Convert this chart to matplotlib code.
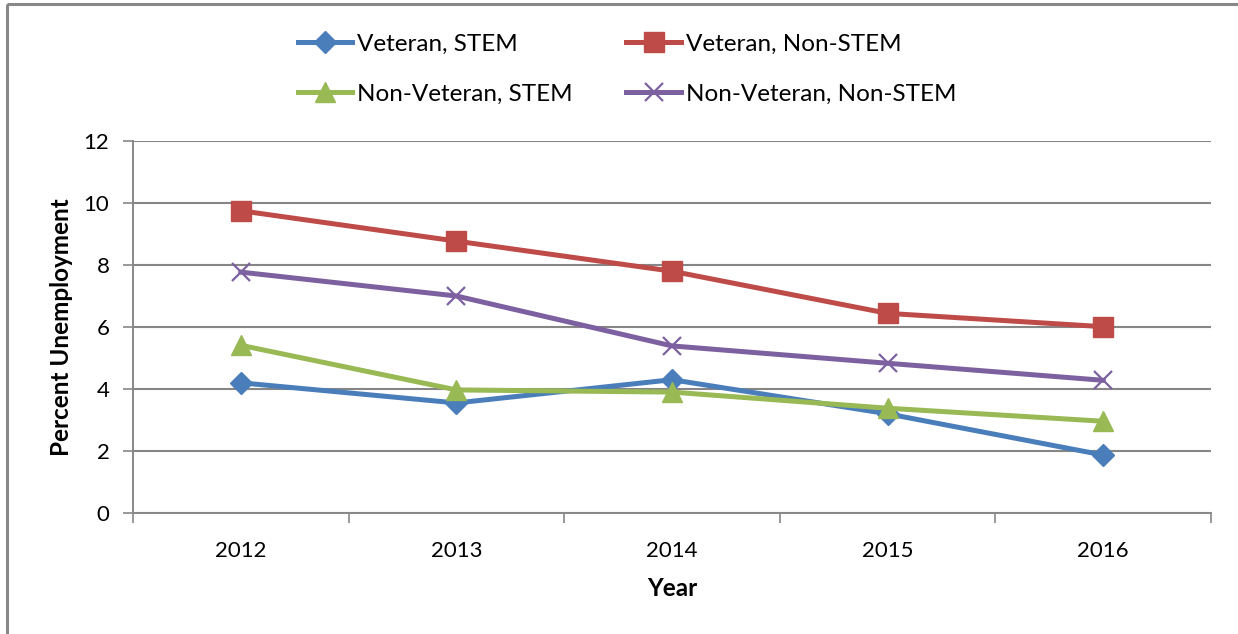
import matplotlib
matplotlib.use('Agg')
import matplotlib.pyplot as plt
import numpy as np
from matplotlib.patches import Rectangle

# data
years = ['2012', '2013', '2014', '2015', '2016']
vet_stem = [4.2, 3.55, 4.3, 3.2, 1.87]
vet_nonstem = [9.75, 8.77, 7.8, 6.44, 6.01]
nonvet_stem = [5.41, 3.97, 3.9, 3.38, 2.96]
nonvet_nonstem = [7.77, 7.0, 5.39, 4.83, 4.28]

plt.rcParams['font.family'] = ['Lato', 'DejaVu Sans']

fig = plt.figure(figsize=(12.38, 6.34), dpi=100)
ax = fig.add_axes([133/1238, 1-513/634, (1211-133)/1238, (513-141)/634])

# outer frame of the chart
fig.patches.append(Rectangle((7/1238, 1-4/634), 1.0, -1.1, transform=fig.transFigure,
                             fill=False, edgecolor='#888888', lw=2.2))

x = np.arange(len(years))
lw = 3.6
l1, = ax.plot(x, vet_stem, color='#4A7EBB', lw=lw, marker='D', ms=11, label='Veteran, STEM')
l2, = ax.plot(x, vet_nonstem, color='#BE4B48', lw=lw, marker='s', ms=14, label='Veteran, Non-STEM')
l3, = ax.plot(x, nonvet_stem, color='#98B954', lw=lw, marker='^', ms=15, label='Non-Veteran, STEM')
l4, = ax.plot(x, nonvet_nonstem, color='#7D60A0', lw=lw, marker='x', ms=13, mew=1.6,
              label='Non-Veteran, Non-STEM')

ax.set_xlim(-0.5, len(years) - 0.5)
ax.set_ylim(0, 12)
ax.set_yticks(np.arange(0, 13, 2))
ax.set_xticks(x)
ax.set_xticklabels(years)
ax.set_xticks(np.arange(-0.5, len(years), 1.0), minor=True)
ax.tick_params(axis='x', which='major', length=0, pad=20, labelsize=16)
ax.tick_params(axis='x', which='minor', length=7, width=1.2, color='#888888', direction='out')
ax.tick_params(axis='y', length=7, width=1.2, color='#888888', pad=10, labelsize=16)

ax.grid(axis='y', color='#868686', lw=1.5)
ax.set_axisbelow(True)
for s in ['top', 'right']:
    ax.spines[s].set_visible(False)
for s in ['left', 'bottom']:
    ax.spines[s].set_color('#888888')
    ax.spines[s].set_linewidth(1.4)

ax.set_xlabel('Year', fontsize=17.5, fontweight='bold', labelpad=12)
ax.set_ylabel('Percent Unemployment', fontsize=17.5, fontweight='bold', labelpad=8)

# legend filled column by column, so order gives rows as in the chart
fig.legend([l1, l3, l2, l4], [l1.get_label(), l3.get_label(), l2.get_label(), l4.get_label()],
           loc='upper left', bbox_to_anchor=(288/1238, 1-24/634), ncol=2, frameon=False,
           fontsize=17.5, handlelength=2.25, handletextpad=0.2, columnspacing=2.2,
           labelspacing=1.2, borderaxespad=0)

fig.savefig('out.png', dpi=100)
